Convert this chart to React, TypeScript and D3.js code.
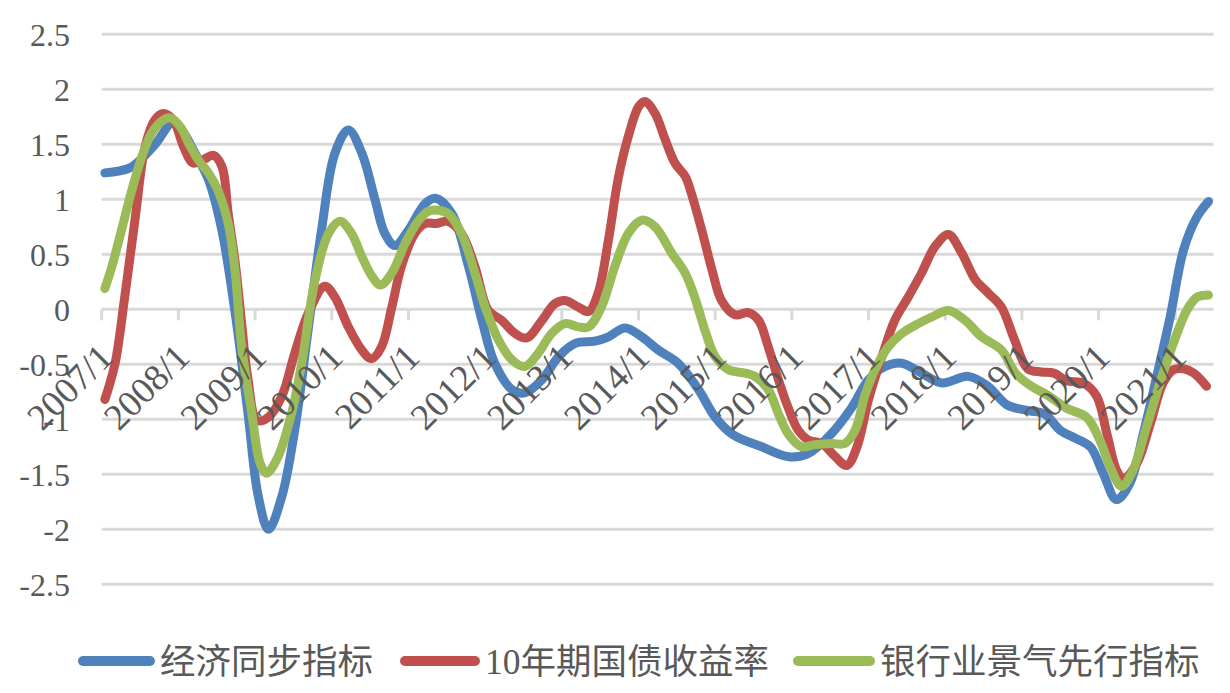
import React from "react";
import * as d3 from "d3";

// month offsets from 2007/1 and values
const blueM = [0, 3.7, 5.2, 8, 10.5, 12, 14.1, 16.2, 18.3, 20.4, 22.4, 24, 25.6, 27.7, 29.7, 31.8, 33.9, 36, 38.1, 40.2, 42.3, 43.8, 45.4, 47.5, 50.1, 51.7, 54.3, 56.9, 59, 61, 63.7, 65.7, 68.4, 71, 73.6, 76.7, 78.8, 81.4, 84, 86.6, 89.7, 92.9, 95.5, 98.3, 102.8, 107, 110.1, 113.7, 116.9, 119.5, 122.1, 124.7, 127.8, 131, 135.1, 138.2, 141.2, 144.4, 147, 149.5, 151.8, 154.2, 156.2, 158.3, 160.4, 162.5, 164.6, 166.7, 168.8, 170.9, 172.7];
const blueV = [1.24, 1.28, 1.34, 1.51, 1.69, 1.63, 1.42, 1.18, 0.72, -0.04, -0.95, -1.7, -2.0, -1.7, -1.1, -0.19, 0.72, 1.42, 1.63, 1.42, 0.99, 0.69, 0.58, 0.72, 0.96, 1.01, 0.87, 0.39, -0.1, -0.49, -0.73, -0.76, -0.64, -0.43, -0.31, -0.29, -0.25, -0.17, -0.25, -0.37, -0.49, -0.73, -0.98, -1.14, -1.25, -1.34, -1.31, -1.13, -0.89, -0.64, -0.52, -0.49, -0.58, -0.67, -0.61, -0.7, -0.87, -0.92, -0.95, -1.1, -1.17, -1.25, -1.49, -1.73, -1.58, -1.13, -0.61, -0.07, 0.54, 0.84, 0.98];

const redM = [0, 1.6, 3.1, 4.7, 6.3, 7.8, 9.1, 10.7, 12.3, 13.8, 15.4, 17, 18.3, 19.3, 20.4, 21.4, 22.4, 23.8, 25.6, 27.7, 29.7, 31.8, 34.4, 36, 38.1, 40.2, 41.7, 43.3, 44.9, 46.4, 48.5, 50.1, 51.9, 53.7, 55.8, 57.9, 60, 62.1, 64.2, 66, 68.4, 70.4, 72, 74.1, 75.7, 77.2, 78.8, 80.3, 81.9, 83.5, 84.5, 86.1, 87.7, 89.2, 90.8, 91.8, 93.4, 95, 96.5, 98.6, 100.7, 102.3, 103.8, 105.4, 106.9, 108.5, 110.1, 112.2, 114.3, 116.1, 117.7, 119.5, 121.6, 123.6, 125.7, 127.8, 129.9, 132, 134.1, 136.2, 138.2, 140.3, 142.3, 144.4, 146.5, 148.5, 150.5, 153.1, 155.2, 156.8, 158.3, 159.4, 161.5, 163.6, 165.6, 167.2, 168.8, 170.4, 172.4];
const redV = [-0.82, -0.49, 0.11, 0.81, 1.48, 1.72, 1.78, 1.72, 1.48, 1.33, 1.36, 1.4, 1.3, 0.87, 0.42, -0.13, -0.64, -1.01, -0.98, -0.79, -0.4, -0.04, 0.21, 0.11, -0.16, -0.37, -0.45, -0.34, 0.02, 0.39, 0.69, 0.78, 0.78, 0.8, 0.69, 0.39, -0.01, -0.1, -0.22, -0.26, -0.1, 0.05, 0.08, 0.02, -0.02, 0.15, 0.63, 1.18, 1.57, 1.84, 1.89, 1.78, 1.54, 1.33, 1.21, 1.05, 0.72, 0.36, 0.08, -0.05, -0.03, -0.1, -0.34, -0.64, -0.89, -1.1, -1.19, -1.22, -1.34, -1.42, -1.25, -0.82, -0.43, -0.1, 0.11, 0.33, 0.57, 0.68, 0.51, 0.27, 0.15, 0.02, -0.27, -0.54, -0.57, -0.58, -0.65, -0.67, -0.79, -1.13, -1.46, -1.54, -1.4, -1.04, -0.67, -0.55, -0.54, -0.58, -0.7];

const greenM = [0, 1.1, 2.6, 4.2, 5.8, 7.3, 8.9, 10.2, 11.8, 13.1, 14.6, 16.2, 17.7, 19.3, 20.4, 21.4, 23, 24.3, 25.3, 27.1, 29.2, 30.8, 32.9, 35, 36.8, 38.6, 40.2, 41.8, 43.1, 44.9, 47, 49, 50.6, 52.2, 53.7, 55.8, 57.9, 59.5, 61.6, 63.7, 65.7, 67.8, 69.9, 72, 74.1, 75.7, 77.7, 79.8, 81.9, 84, 86.1, 88.7, 90.8, 92.3, 93.9, 95.5, 97.6, 100.2, 101.7, 103.8, 105.4, 106.9, 109, 111.1, 113.7, 115.8, 117.4, 118.9, 120.5, 122.6, 124.7, 127.3, 129.4, 132, 134.6, 137.2, 140.3, 142.5, 145, 147.5, 150.5, 153.6, 155.7, 157.3, 159.1, 160.9, 163, 165.1, 167.2, 169.3, 170.9, 172.7];
const greenV = [0.19, 0.39, 0.72, 1.08, 1.39, 1.6, 1.71, 1.74, 1.66, 1.51, 1.36, 1.24, 1.08, 0.78, 0.33, -0.34, -0.95, -1.4, -1.49, -1.34, -0.95, -0.49, 0.27, 0.69, 0.8, 0.69, 0.48, 0.3, 0.22, 0.33, 0.6, 0.8, 0.89, 0.9, 0.87, 0.69, 0.33, 0.02, -0.28, -0.46, -0.52, -0.4, -0.22, -0.13, -0.16, -0.16, 0.02, 0.39, 0.69, 0.81, 0.75, 0.51, 0.33, 0.11, -0.19, -0.43, -0.55, -0.58, -0.61, -0.73, -0.95, -1.13, -1.25, -1.23, -1.22, -1.22, -1.1, -0.79, -0.55, -0.34, -0.22, -0.13, -0.07, -0.01, -0.1, -0.25, -0.37, -0.58, -0.7, -0.78, -0.9, -0.98, -1.19, -1.43, -1.61, -1.46, -1.07, -0.67, -0.31, -0.01, 0.11, 0.13];

const yearLabels = ["2007/1", "2008/1", "2009/1", "2010/1", "2011/1", "2012/1", "2013/1", "2014/1", "2015/1", "2016/1", "2017/1", "2018/1", "2019/1", "2020/1", "2021/1"];
const yTicks = [2.5, 2, 1.5, 1, 0.5, 0, -0.5, -1, -1.5, -2, -2.5];
const seriesNames = ["经济同步指标", "10年期国债收益率", "银行业景气先行指标"];
const seriesColors = ["#4F81BD", "#C0504D", "#9BBB59"];
const nMonths = 174;

export default function App() {
  const W = 1230, H = 693;
  const x = d3.scaleLinear().domain([-0.5, nMonths - 0.5]).range([101.7, 1213.6]);
  const y = d3.scaleLinear().domain([-2.5, 2.5]).range([584.3, 34.3]);
  const line = d3
    .line<[number, number]>()
    .x((d) => x(d[0]))
    .y((d) => y(d[1]))
    .curve(d3.curveCatmullRom.alpha(0.5));
  const series = [
    d3.zip(blueM, blueV) as [number, number][],
    d3.zip(redM, redV) as [number, number][],
    d3.zip(greenM, greenV) as [number, number][],
  ];
  const textColor = "#595959";
  const grid = "#D9D9D9";
  const legendItems = [
    { x1: 78, x2: 155 },
    { x1: 400, x2: 480 },
    { x1: 793, x2: 875 },
  ];
  return (
    <svg
      width={W}
      height={H}
      style={{ position: "absolute", left: 0, top: 0, background: "#fff" }}
      fontFamily="'Liberation Serif', 'Noto Sans CJK SC', serif"
    >
      <rect width={W} height={H} fill="#fff" />
      {yTicks.map((t) => (
        <g key={t}>
          <line x1={x(-0.5)} x2={x(nMonths - 0.5)} y1={y(t)} y2={y(t)} stroke={grid} strokeWidth={3} />
          <text x={70} y={y(t)} dy="0.35em" textAnchor="end" fontSize={32} fill={textColor}>
            {String(t)}
          </text>
        </g>
      ))}
      {yearLabels.map((lab, k) => {
        const xt = x(12 * k - 0.5);
        return (
          <line key={"t" + k} x1={xt} x2={xt} y1={y(0)} y2={y(0) + 11} stroke={grid} strokeWidth={3} />
        );
      })}
      {series.map((s, i) => (
        <path
          key={i}
          d={line(s) || ""}
          fill="none"
          stroke={seriesColors[i]}
          strokeWidth={9}
          strokeLinecap="round"
          strokeLinejoin="round"
        />
      ))}
      {yearLabels.map((lab, k) => {
        const ax = x(12 * k) + 10;
        const ay = y(0) + 50;
        return (
          <text
            key={lab}
            x={ax}
            y={ay}
            transform={`rotate(-45 ${ax} ${ay})`}
            textAnchor="end"
            fontSize={37}
            fill={textColor}
          >
            {lab}
          </text>
        );
      })}
      {legendItems.map((li, i) => (
        <g key={i}>
          <line x1={li.x1 + 5} x2={li.x2 - 5} y1={661} y2={661} stroke={seriesColors[i]} strokeWidth={10} strokeLinecap="round" />
          <text x={li.x2 + 5} y={661} dy="0.36em" fontSize={35.5} fill={textColor}>
            {seriesNames[i]}
          </text>
        </g>
      ))}
    </svg>
  );
}
